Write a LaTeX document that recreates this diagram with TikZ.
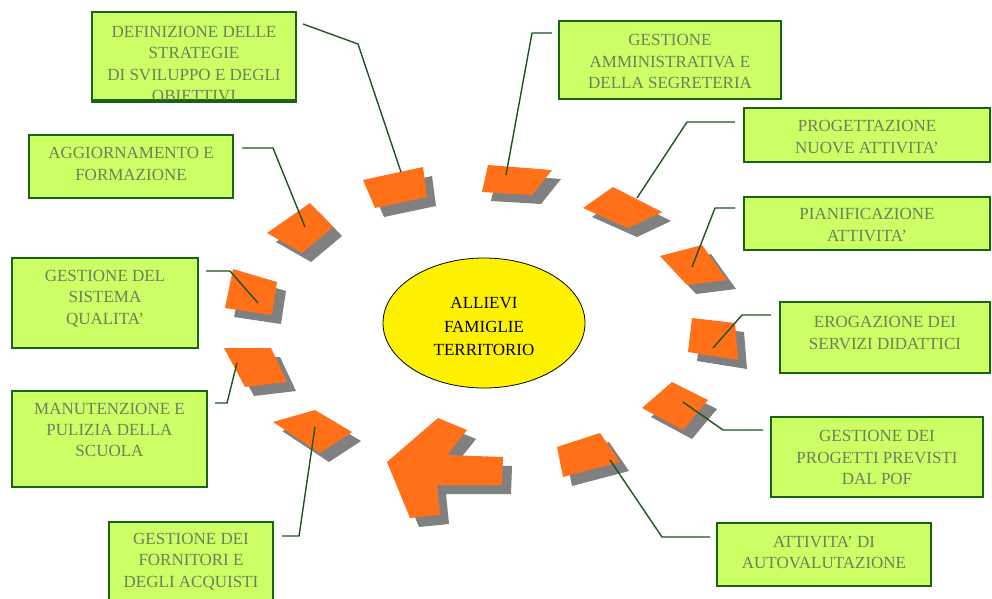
\documentclass[tikz,border=0pt]{standalone}
\usepackage{fontspec}
\setmainfont{Liberation Serif}
\usetikzlibrary{shapes.geometric}
\definecolor{boxfill}{RGB}{204,255,102}
\definecolor{boxline}{RGB}{25,100,20}
\definecolor{boxtext}{RGB}{110,128,90}
\definecolor{tileor}{RGB}{255,112,24}
\definecolor{tilesh}{RGB}{128,128,128}
\definecolor{conn}{RGB}{30,85,30}
\newcommand{\tile}[1]{\fill[tilesh,shift={(9,9)}] #1; \fill[tileor] #1;}
\begin{document}
\begin{tikzpicture}[x=1pt,y=-1pt,
  box/.style={draw=boxline,line width=2.5pt,fill=boxfill,inner sep=0pt},
  lbl/.style={text=boxtext,align=center,inner sep=0pt,font=\fontsize{17}{21.3}\selectfont},
  link/.style={draw=conn,line width=1.4pt,line join=round}]
\useasboundingbox (0,0) rectangle (992,598);
\fill[white] (0,0) rectangle (992,598);

% tiles around the circle
\tile{(363,180)--(423,167)--(427,197)--(375,208)--cycle}
\tile{(488,165)--(552,170)--(532,195)--(482,192)--cycle}
\tile{(583,208)--(613,187)--(662,212)--(628,228)--cycle}
\tile{(660,256)--(702,245)--(727,280)--(687,285)--cycle}
\tile{(692,318)--(735,323)--(738,360)--(688,352)--cycle}
\tile{(642,408)--(672,382)--(708,400)--(683,430)--cycle}
\tile{(557,447)--(600,433)--(620,462)--(563,477)--cycle}
\tile{(438,418)--(467,430)--(447,455)--(503,457)--(502,485)--(437,485)--(440,515)--(410,518)--(387,462)--cycle}
\tile{(273,422)--(315,410)--(352,432)--(320,453)--cycle}
\tile{(224,348)--(271,348)--(287,382)--(245,387)--cycle}
\tile{(233,269)--(277,282)--(272,315)--(225,308)--cycle}
\tile{(267,233)--(310,203)--(333,227)--(302,253)--cycle}

% centre
\node[ellipse,draw=black,line width=0.8pt,fill=yellow,minimum width=202pt,minimum height=130pt,inner sep=0pt] (c) at (484,323) {};
\node[align=center,inner sep=0pt,font=\fontsize{17}{23.5}\selectfont] (ct) at (484,326.5) {ALLIEVI\\FAMIGLIE\\TERRITORIO};

% boxes
\node[box,minimum width=204pt,minimum height=88pt] (b1) at (194,56) {};
\node[lbl] (t1) at (194,64) {DEFINIZIONE DELLE\\STRATEGIE\\DI SVILUPPO E DEGLI\\OBIETTIVI};
\draw[boxline,line width=2.5pt] (b1.south west) -- (b1.south east);
\node[box,minimum width=222pt,minimum height=78pt] (b2) at (670,60) {};
\node[lbl] (t2) at (670,61.5) {GESTIONE\\AMMINISTRATIVA E\\DELLA SEGRETERIA};
\node[box,minimum width=246pt,minimum height=54pt] (b3) at (867,135) {};
\node[lbl] (t3) at (867,137) {PROGETTAZIONE\\NUOVE ATTIVITA’};
\node[box,minimum width=246pt,minimum height=53pt] (b4) at (867,223.5) {};
\node[lbl] (t4) at (867,225) {PIANIFICAZIONE\\ATTIVITA’};
\node[box,minimum width=210pt,minimum height=71pt] (b5) at (885,337.5) {};
\node[lbl] (t5) at (885,333) {EROGAZIONE DEI\\SERVIZI DIDATTICI};
\node[box,minimum width=212pt,minimum height=80pt] (b6) at (877,457) {};
\node[lbl] (t6) at (877,457.5) {GESTIONE DEI\\PROGETTI PREVISTI\\DAL POF};
\node[box,minimum width=214pt,minimum height=63pt] (b7) at (824,554.5) {};
\node[lbl] (t7) at (824,552.5) {ATTIVITA’ DI\\AUTOVALUTAZIONE};
\node[box,minimum width=164pt,minimum height=80pt] (b8) at (191,562) {};
\node[lbl] (t8) at (191,561.5) {GESTIONE DEI\\FORNITORI E\\DEGLI ACQUISTI};
\node[box,minimum width=195pt,minimum height=96pt] (b9) at (109.5,439) {};
\node[lbl] (t9) at (109.5,430) {MANUTENZIONE E\\PULIZIA DELLA\\SCUOLA};
\node[box,minimum width=186pt,minimum height=90pt] (b10) at (105,303) {};
\node[lbl] (t10) at (105,298.5) {GESTIONE DEL\\SISTEMA\\QUALITA’};
\node[box,minimum width=204pt,minimum height=63pt] (b11) at (131,166.5) {};
\node[lbl] (t11) at (131,164) {AGGIORNAMENTO E\\FORMAZIONE};

% connector coordinates
\coordinate (s1) at (303,24);  \coordinate (k1) at (358,44);  \coordinate (e1) at (401,172);
\coordinate (s2) at (552,33);  \coordinate (k2) at (532,33);  \coordinate (e2) at (506,175);
\coordinate (s3) at (735,122); \coordinate (k3) at (687,122); \coordinate (e3) at (637,198);
\coordinate (s4) at (735,208); \coordinate (k4) at (715,208); \coordinate (e4) at (692,267);
\coordinate (s5) at (771,315); \coordinate (k5) at (742,315); \coordinate (e5) at (713,348);
\coordinate (s6) at (763,430); \coordinate (k6) at (723,430); \coordinate (e6) at (683,402);
\coordinate (s7) at (710,537); \coordinate (k7) at (662,537); \coordinate (e7) at (610,460);
\coordinate (s8) at (282,536); \coordinate (k8) at (299,536); \coordinate (e8) at (315,427);
\coordinate (s9) at (215,403); \coordinate (k9) at (227,403); \coordinate (e9) at (237,363);
\coordinate (s10) at (206,271); \coordinate (k10) at (230,271); \coordinate (e10) at (258,303);
\coordinate (s11) at (242,148); \coordinate (k11) at (273,148); \coordinate (e11) at (305,227);

\draw[link] (s1) -- (k1) -- (e1);
\draw[link] (s2) -- (k2) -- (e2);
\draw[link] (s3) -- (k3) -- (e3);
\draw[link] (s4) -- (k4) -- (e4);
\draw[link] (s5) -- (k5) -- (e5);
\draw[link] (s6) -- (k6) -- (e6);
\draw[link] (s7) -- (k7) -- (e7);
\draw[link] (s8) -- (k8) -- (e8);
\draw[link] (s9) -- (k9) -- (e9);
\draw[link] (s10) -- (k10) -- (e10);
\draw[link] (s11) -- (k11) -- (e11);
\end{tikzpicture}
\end{document}
